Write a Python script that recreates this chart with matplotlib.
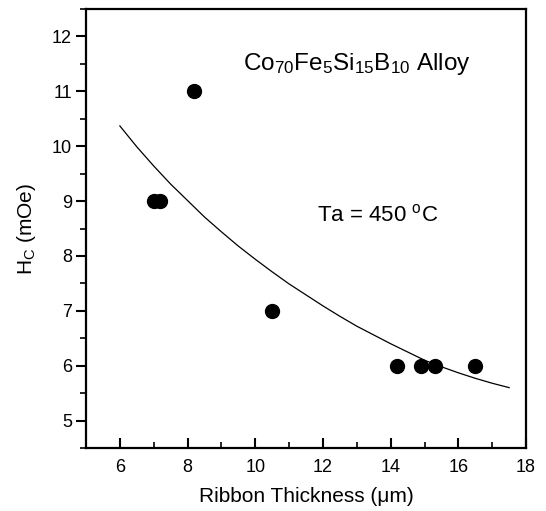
import matplotlib
matplotlib.use("Agg")
import matplotlib.pyplot as plt
from matplotlib.ticker import MultipleLocator

plt.rcParams['font.family'] = ['Liberation Sans', 'DejaVu Sans']
plt.rcParams['mathtext.fontset'] = 'custom'
plt.rcParams['mathtext.rm'] = 'Liberation Sans'
plt.rcParams['mathtext.it'] = 'Liberation Sans'

# measured points
thickness = [7.0, 7.2, 8.2, 10.5, 14.2, 14.9, 15.3, 16.5]
hc = [9.0, 9.0, 11.0, 7.0, 6.0, 6.0, 6.0, 6.0]

# fitted curve
fit_x = [6.0, 6.5, 7.0, 7.5, 8.0, 8.5, 9.0, 9.5, 10.0, 10.5, 11.0, 11.5, 12.0,
         12.5, 13.0, 13.5, 14.0, 14.5, 15.0, 15.5, 16.0, 16.5, 17.0, 17.5]
fit_y = [10.37, 9.99, 9.64, 9.31, 9.01, 8.71, 8.44, 8.18, 7.94, 7.71, 7.49,
         7.29, 7.09, 6.90, 6.72, 6.56, 6.40, 6.25, 6.10, 5.98, 5.87, 5.77,
         5.68, 5.60]

fig = plt.figure(figsize=(5.46, 5.11), dpi=100)
ax = fig.add_axes([0.1575, 0.1233, 0.806, 0.859])

ax.plot(fit_x, fit_y, color='black', lw=0.9)
ax.plot(thickness, hc, 'o', color='black', ms=10, mec='black')

ax.set_xlim(5, 18)
ax.set_ylim(4.5, 12.5)
ax.xaxis.set_major_locator(MultipleLocator(2))
ax.xaxis.set_minor_locator(MultipleLocator(1))
ax.yaxis.set_major_locator(MultipleLocator(1))
ax.yaxis.set_minor_locator(MultipleLocator(0.5))
ax.set_yticks([5, 6, 7, 8, 9, 10, 11, 12])

for s in ax.spines.values():
    s.set_linewidth(1.6)

ax.tick_params(axis='x', which='major', direction='in', length=7, width=1.5,
               labelsize=13, pad=8)
ax.tick_params(axis='x', which='minor', direction='in', length=4, width=1.2)
ax.tick_params(axis='y', which='major', direction='out', length=7, width=1.5,
               labelsize=13, pad=3)
ax.tick_params(axis='y', which='minor', direction='out', length=4, width=1.2)

ax.set_xlabel('Ribbon Thickness (\u03bcm)', fontsize=15, labelpad=8)
ax.set_ylabel('H$_\\mathregular{C}$ (mOe)', fontsize=15, labelpad=10)

ax.text(9.64, 11.39, 'Co$_{70}$Fe$_5$Si$_{15}$B$_{10}$ Alloy', fontsize=17.5,
        va='baseline', ha='left')
ax.text(11.82, 8.63, 'Ta = 450 $^\\mathregular{o}$C', fontsize=16,
        va='baseline', ha='left')

fig.savefig('out.png', dpi=100)
